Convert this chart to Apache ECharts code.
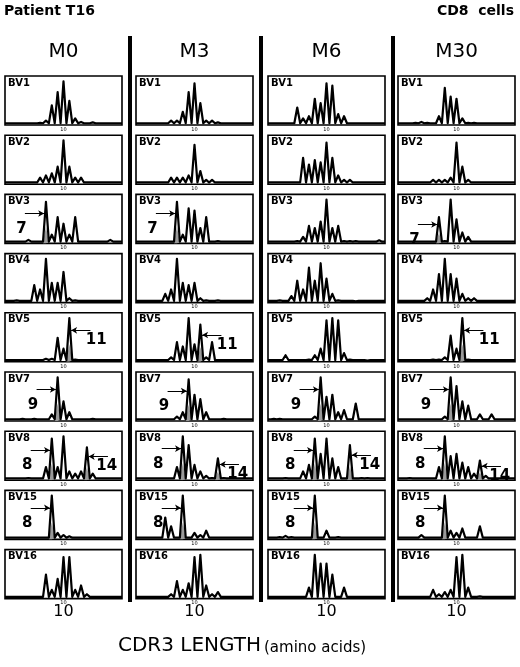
<!DOCTYPE html>
<html><head><meta charset="utf-8">
<script src="https://cdn.jsdelivr.net/npm/echarts@6/dist/echarts.min.js"></script>
<style>html,body{margin:0;padding:0;background:#fff}#c{width:520px;height:667px}</style>
</head><body><div id="c"></div>
<script>
const months = ['M0','M3','M6','M30'];
const families = ['BV1','BV2','BV3','BV4','BV5','BV7','BV8','BV15','BV16'];
const baseline = 0.04;
// peak heights by CDR3 length (0..20), per month, per family
const M0 = {
 BV1:{6:.05,7:.1,8:.45,9:.75,10:1.0,11:.55,12:.15,13:.07,15:.06},
 BV2:{6:.15,7:.2,8:.25,9:.4,10:1.0,11:.4,12:.15,13:.15},
 BV3:{4:.08,7:.95,8:.2,9:.6,10:.45,11:.2,12:.6,18:.08},
 BV4:{2:.05,5:.4,6:.3,7:1.0,8:.45,9:.45,10:.7,11:.1,12:.05},
 BV5:{7:.07,8:.07,9:.55,10:.3,11:1.0,12:.05},
 BV7:{3:.05,5:.05,8:.15,9:1.0,10:.45,11:.2,15:.05},
 BV8:{4:.05,7:.3,8:.95,9:.3,10:1.0,11:.2,12:.15,13:.2,14:.75,15:.15},
 BV15:{8:1.0,9:.15,10:.1,11:.07},
 BV16:{7:.55,8:.2,9:.45,10:.95,11:.95,12:.2,13:.3,14:.1}
};
const M3 = {
 BV1:{6:.1,7:.1,8:.3,9:.75,10:.95,11:.5,12:.1,13:.1,14:.06},
 BV2:{6:.15,7:.15,8:.15,9:.2,10:.9,11:.3,12:.1,13:.1},
 BV3:{7:.95,8:.2,9:.8,10:.75,11:.35,12:.6,14:.05},
 BV4:{5:.2,6:.3,7:1.0,8:.45,9:.4,10:.45,11:.1,12:.05,14:.05},
 BV5:{6:.1,7:.45,8:.35,9:1.0,10:.4,11:.85,12:.1,13:.45},
 BV7:{7:.1,8:.2,9:.95,10:.6,11:.5,12:.2,15:.05},
 BV8:{7:.3,8:1.0,9:.8,10:.35,11:.2,12:.1,13:.05,14:.5,15:.05},
 BV15:{5:.5,6:.3,8:1.0,10:.15,11:.1,12:.2},
 BV16:{6:.1,7:.4,8:.2,9:.35,10:.95,11:1.0,12:.3,13:.1,14:.15}
};
const M6 = {
 BV1:{5:.4,6:.15,7:.2,8:.6,9:.5,10:.95,11:.9,12:.25,13:.2},
 BV2:{6:.6,7:.45,8:.55,9:.5,10:.95,11:.6,12:.2,13:.1,14:.1},
 BV3:{5:.05,6:.15,7:.4,8:.35,9:.5,10:1.0,11:.35,12:.4,13:.05,14:.05,15:.05,19:.07},
 BV4:{2:.05,4:.15,5:.5,6:.3,7:.8,8:.5,9:.9,10:.55,11:.2,12:.05,15:.03},
 BV5:{3:.15,7:.05,8:.15,9:.3,10:.95,11:1.0,12:.95,13:.2,14:.05,17:.03},
 BV7:{1:.05,2:.05,8:.1,9:1.0,10:.55,11:.6,12:.2,13:.25,15:.4},
 BV8:{3:.05,6:.2,7:.35,8:.95,9:.6,10:.95,11:.5,12:.3,14:.8,16:.05,17:.05},
 BV15:{2:.05,3:.08,4:.05,8:1.0,10:.2,12:.05},
 BV16:{7:.25,8:1.0,9:.8,10:.8,11:.55,13:.25}
};
const M30 = {
 BV1:{3:.05,4:.07,5:.05,7:.2,8:.85,9:.65,10:.6,11:.15,12:.05,13:.05},
 BV2:{6:.1,7:.1,8:.1,9:.15,10:.95,11:.4,12:.1},
 BV3:{7:.6,8:.05,9:1.0,10:.55,11:.25,12:.15},
 BV4:{5:.1,6:.3,7:.65,8:1.0,9:.65,10:.55,11:.2,12:.1,13:.1},
 BV5:{6:.05,7:.05,8:.1,9:.6,10:.3,11:1.0,12:.05},
 BV7:{8:.1,9:1.0,10:.8,11:.45,12:.35,14:.15,16:.15},
 BV8:{2:.05,7:.3,8:1.0,9:.55,10:.6,11:.4,12:.3,13:.15,14:.45,15:.1},
 BV15:{4:.1,8:1.0,9:.2,10:.15,11:.25,14:.3},
 BV16:{6:.2,7:.1,8:.15,9:.2,10:.95,11:1.0,12:.25,14:.05}
};
const peaksByMonth = [M0, M3, M6, M30];
// highlighted (grey, arrowed) lengths per family: [length, side]
const marks = {
 BV3:[[7,'L']], BV5:[[11,'R']], BV7:[[9,'L']], BV8:[[8,'L'],[14,'R']], BV15:[[8,'L']]
};

const colX = [5,136,268,398], panelW = 117, rowY0 = 76, rowStep = 59.2, panelH = 49;
const grids=[], xAxes=[], yAxes=[], series=[], graphics=[];
let gi = 0;
months.forEach((m, c) => {
  families.forEach((f, r) => {
    const pk = peaksByMonth[c][f];
    const top = rowY0 + r*rowStep;
    grids.push({left:colX[c], top:top, width:panelW, height:panelH, show:true, borderColor:'#000', borderWidth:1.6, backgroundColor:'#fff'});
    xAxes.push({gridIndex:gi, type:'value', min:0, max:20, axisLine:{show:false}, splitLine:{show:false},
      axisTick:{show:false}, axisLabel:{show:true, customValues:[10], fontSize:5, margin:2, color:'#000', fontFamily:'DejaVu Sans'}});
    yAxes.push({gridIndex:gi, type:'value', min:0, max:1.12, show:false});
    const pts = [];
    for (let L=0; L<=20; L+=0.5) {
      const v = (Number.isInteger(L) && pk[L]!==undefined) ? pk[L] : baseline;
      pts.push([L, v]);
    }
    series.push({type:'line', xAxisIndex:gi, yAxisIndex:gi, data:pts, symbol:'none', silent:true,
      lineStyle:{color:'#000', width:2.2, join:'round'}, z:3});
    const ml = (m==='M6' && (f==='BV3'||f==='BV5')) ? [] : (marks[f]||[]);
    ml.forEach(([L, side]) => {
      const h = pk[L];
      const ay = Math.min(h*0.72, 0.8);
      const mdata = side==='L'
        ? [[{coord:[L-3.6, ay]},{coord:[L-0.3, ay]}]]
        : [[{coord:[L+3.6, ay]},{coord:[L+0.3, ay]}]];
      const lab = side==='L' ? [L-4.2, ay-0.35] : [L+(L===14?3.4:4.6), ay-0.22];
      series.push({type:'line', xAxisIndex:gi, yAxisIndex:gi, symbol:'none', silent:true,
        data:[[L-0.5,baseline],[L,h*0.4],[L+0.5,baseline]],
        lineStyle:{width:0}, areaStyle:{color:'#9a9a9a', opacity:1}, z:2,
        markLine:{silent:true, symbol:['none','arrow'], symbolSize:[5,6], lineStyle:{color:'#000', width:1, type:'solid'}, label:{show:false}, data:mdata},
        markPoint:{silent:true, symbol:'circle', symbolSize:0, data:[{coord:lab, value:String(L)}],
          label:{show:true, formatter:String(L), fontSize:15, fontWeight:'bold', color:'#000', fontFamily:'DejaVu Sans'}}
      });
    });
    graphics.push({type:'text', left:colX[c]+3, top:top+2, style:{text:f, font:'bold 10px "DejaVu Sans"', fill:'#000'}});
    gi++;
  });
  graphics.push({type:'text', x:colX[c]+panelW/2, y:42, style:{text:m, font:'20px "DejaVu Sans"', fill:'#000', textAlign:'center'}});
  graphics.push({type:'text', x:colX[c]+panelW/2, y:604, style:{text:'10', font:'16px "DejaVu Sans"', fill:'#000', textAlign:'center'}});
});
[128,259,391].forEach(x => graphics.push({type:'rect', shape:{x:x, y:36, width:4, height:566}, style:{fill:'#000'}}));
graphics.push({type:'text', x:4, y:4, style:{text:'Patient T16', font:'bold 14px "DejaVu Sans"', fill:'#000'}});
graphics.push({type:'text', x:514, y:4, style:{text:'CD8  cells', font:'bold 14px "DejaVu Sans"', fill:'#000', textAlign:'right'}});
graphics.push({type:'text', x:118, y:636, style:{text:'CDR3 LENGTH', font:'20px "DejaVu Sans"', fill:'#000'}});
graphics.push({type:'text', x:264, y:641, style:{text:'(amino acids)', font:'15px "DejaVu Sans"', fill:'#000'}});

const chart = echarts.init(document.getElementById('c'));
chart.setOption({animation:false, grid:grids, xAxis:xAxes, yAxis:yAxes, series:series, graphic:graphics});
</script></body></html>
